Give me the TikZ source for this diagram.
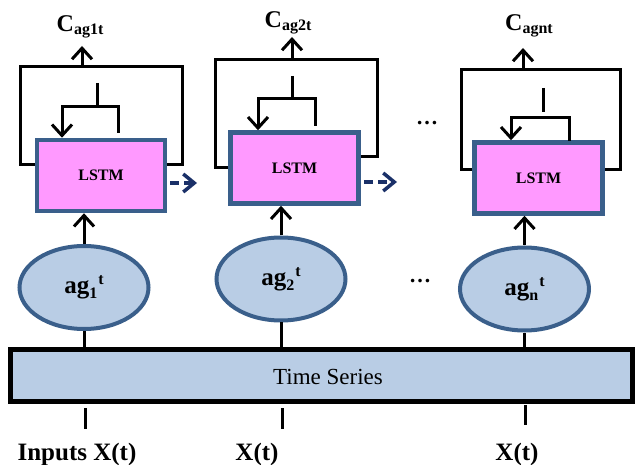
\documentclass[tikz,border=0pt]{standalone}
\usepackage{fontspec}
\setmainfont{Liberation Serif}
\usetikzlibrary{arrows.meta,shapes.geometric}
\definecolor{lstmpink}{HTML}{FF99FF}
\definecolor{boxblue}{HTML}{3A5F8B}
\definecolor{agfill}{HTML}{B9CDE5}
\definecolor{navyarrow}{HTML}{1A3068}
\newcommand{\myfs}[1]{\fontsize{#1}{#1}\selectfont}
\newcommand{\aglab}[1]{ag\raisebox{-5pt}{\myfs{16}#1}\raisebox{9pt}{\myfs{16}\kern1pt t}}
\newcommand{\clab}[1]{C\raisebox{-3pt}{\myfs{16}#1}}
\begin{document}
\begin{tikzpicture}[x=1pt,y=-1pt,
  conn/.style={draw=black,line width=3pt},
  myarrow/.style={-{Straight Barb[length=11pt,width=20pt]}},
  dasharrow/.style={draw=navyarrow,line width=3.5pt,dash pattern=on 9pt off 5pt,
    shorten <=3pt,-{Straight Barb[length=11pt,width=18pt]}},
  lstmbox/.style={rectangle,fill=lstmpink,draw=boxblue,line width=4.5pt,
    minimum width=128pt,minimum height=71pt,inner sep=0pt,
    font=\myfs{16}\bfseries},
  agent/.style={ellipse,fill=agfill,draw=boxblue,line width=4pt,
    minimum width=129pt,minimum height=83pt,inner sep=0pt,
    font=\myfs{25}\bfseries},
  tsbox/.style={rectangle,fill=agfill,draw=black,line width=5pt,
    minimum width=622pt,minimum height=52pt,inner sep=0pt},
  clabel/.style={anchor=base,inner sep=0pt,font=\myfs{24}\bfseries},
  blabel/.style={anchor=base,inner sep=0pt,font=\myfs{25}\bfseries},
  dotlabel/.style={anchor=base,inner sep=0pt,font=\myfs{22}\bfseries}]
\useasboundingbox (0,0) rectangle (635,465);
% LSTM boxes
\node[lstmbox] (l1) at (101,175.5) {LSTM};
\node[lstmbox] (l2) at (294.5,168) {LSTM};
\node[lstmbox] (l3) at (538.5,178) {LSTM};
% agents
\node[agent] (a1) at (84,287.5) {\aglab{1}};
\node[agent] (a2) at (281,279) {\aglab{2}};
\node[agent] (a3) at (524.5,289) {\aglab{n}};
% time series
\node[tsbox] (ts) at (321.5,375.5) {};
\node[inner sep=0pt,font=\myfs{23}] (tslab) at (328,377) {Time Series};
% C labels
\node[clabel] (c1) at (80,32) {\clab{ag1t}};
\node[clabel] (c2) at (288,28) {\clab{ag2t}};
\node[clabel] (c3) at (529,31) {\clab{agnt}};
% dots
\node[dotlabel] (d1) at (427,125) {\dots};
\node[dotlabel] (d2) at (420,283) {\dots};
% bottom labels
\node[blabel] (in1) at (77,460) {Inputs X(t)};
\node[blabel] (in2) at (257,460) {X(t)};
\node[blabel] (in3) at (517,460) {X(t)};
% loops block 1
\draw[conn] (l1.west |- 0,165) -- (20,165) -- (20,67) -- (182,67) -- (182,165) -- (l1.east |- 0,165);
\draw[conn,myarrow] (82,67) -- (82,46);
\draw[conn] (97,83) -- (97,107);
\draw[conn,myarrow] (118,133) -- (118,107) -- (62,107) -- (62,0 |- l1.north);
% loops block 2
\draw[conn] (l2.west |- 0,168) -- (215,168) -- (215,60) -- (377,60) -- (377,157) -- (l2.east |- 0,157);
\draw[conn,myarrow] (292,60) -- (292,37);
\draw[conn] (292,76) -- (292,99);
\draw[conn,myarrow] (315,126) -- (315,99) -- (258,99) -- (258,0 |- l2.north);
% loops block 3
\draw[conn] (l3.west |- 0,170) -- (461,170) -- (461,70) -- (620,70) -- (620,170) -- (l3.east |- 0,170);
\draw[conn,myarrow] (523,70) -- (523,48);
\draw[conn] (543,88) -- (543,112);
\draw[conn,myarrow] (569,141) -- (569,118) -- (511,118) -- (511,0 |- l3.north);
% dashed arrows
\draw[dasharrow] (l1.east |- 0,183) -- (197,183);
\draw[dasharrow] (l2.east |- 0,182) -- (397,182);
% agents to LSTM
\draw[conn,myarrow] (a1.north) -- (a1.north |- l1.south);
\draw[conn,myarrow] (a2.north) -- (a2.north |- l2.south);
\draw[conn,myarrow] (a3.north) -- (a3.north |- l3.south);
% agents to time series
\draw[conn] (a1.south) -- (a1.south |- ts.north);
\draw[conn] (a2.south) -- (a2.south |- ts.north);
\draw[conn] (a3.south) -- (a3.south |- ts.north);
% inputs
\coordinate (i1t) at (85,408); \coordinate (i1b) at (85,429);
\coordinate (i2t) at (282,408); \coordinate (i2b) at (282,429);
\coordinate (i3t) at (525,405); \coordinate (i3b) at (525,425);
\draw[conn] (i1t) -- (i1b);
\draw[conn] (i2t) -- (i2b);
\draw[conn] (i3t) -- (i3b);
\end{tikzpicture}
\end{document}
